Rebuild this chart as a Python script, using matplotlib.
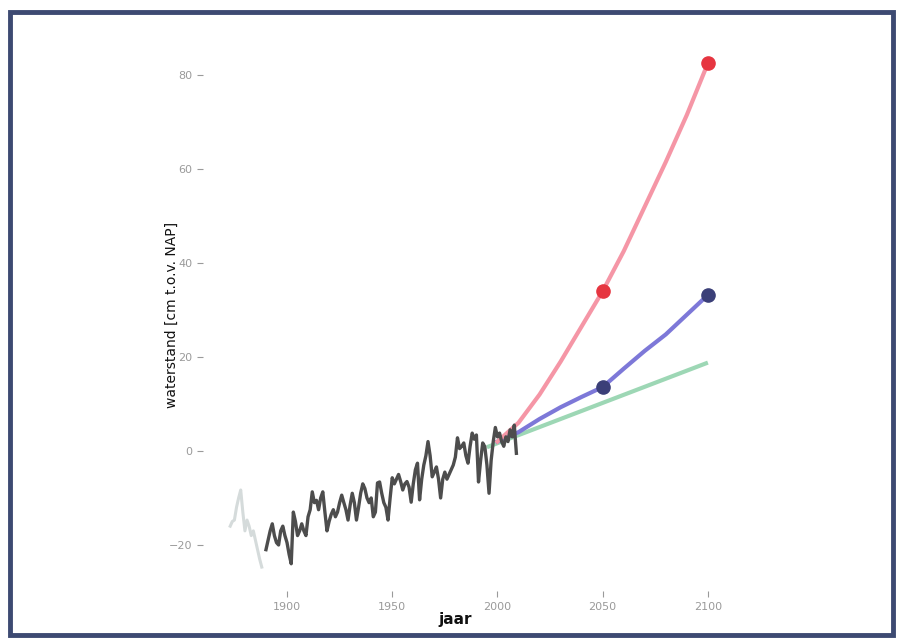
import matplotlib.pyplot as plt
from matplotlib.patches import Rectangle

# gemeten jaargemiddelden (donkergrijs)
years = list(range(1890, 2010))
level = [-21, -19, -17, -15.5, -18, -19.5, -20, -17, -16, -18,
         -19.5, -22, -24, -13, -15, -18, -17, -15.5, -17, -18,
         -14, -12.5, -8.7, -11, -10.5, -12.5, -10, -8.7, -13, -17,
         -15, -13.5, -12.5, -14, -13, -11, -9.4, -11, -12.5, -14.7,
         -11.5, -9, -11, -14.7, -12, -9, -7, -8, -10, -11,
         -10, -14, -13, -6.8, -6.6, -9, -11, -12, -14.7, -10,
         -5.7, -7, -6, -5, -6.5, -8.3, -7, -6.5, -7.7, -10.9,
         -7, -4, -2.6, -10.4, -6, -3, -1, 2, -1, -5.5,
         -4.5, -3.4, -6, -10, -6, -4.5, -6, -5, -4, -3,
         -1.3, 2.8, 0.5, 1, 1.7, -1, -2.6, 1, 3.8, 2.5,
         3.4, -6.6, -2, 1.7, 0.9, -3, -9, -2, 2, 5,
         3, 3.8, 2, 1, 3, 2, 4.5, 3, 5.5, -0.5]

# oudere reeks (lichtgrijs)
old_years = [1873, 1874, 1875, 1876, 1877, 1878, 1879, 1880, 1881, 1882, 1883, 1884, 1885, 1886, 1887, 1888]
old_level = [-16, -15, -14.7, -12, -10, -8.3, -13, -17, -14.7, -16, -18, -17, -19, -21, -23, -24.7]

# scenario's
proj_years = [2000, 2010, 2020, 2030, 2040, 2050, 2060, 2070, 2080, 2090, 2100]
high = [2, 6, 12, 19, 26.5, 34, 42.5, 52, 61.5, 71.5, 82.5]
mid = [2, 4, 6.8, 9.3, 11.5, 13.6, 17.5, 21.3, 24.8, 29, 33.2]
low_years = [1995, 2100]
low = [0.8, 18.8]

dot_years = [2050, 2100]
high_dots = [34, 82.5]
mid_dots = [13.6, 33.2]

fig = plt.figure(figsize=(9.04, 6.43), dpi=100)
ax = fig.add_axes([0.243, 0.1086, 0.568, 0.8187])

ax.plot(old_years, old_level, color='#d5dbdb', lw=2.2)
ax.plot(low_years, low, color='#93d3ad', lw=3, alpha=0.9, solid_capstyle='butt')
ax.plot(proj_years, mid, color='#7d78d8', lw=3)
ax.plot(proj_years, high, color='#f596a6', lw=3)
ax.plot(years, level, color='#4d4d4d', lw=2.4)
ax.plot(dot_years, high_dots, 'o', color='#e63540', ms=9.5)
ax.plot(dot_years, mid_dots, 'o', color='#3b3f78', ms=9.5)

ax.set_xlim(1868, 2112)
ax.set_ylim(-26, 86)
ax.set_xticks([1900, 1950, 2000, 2050, 2100])
ax.set_yticks([-20, 0, 20, 40, 60, 80])

for s in ax.spines.values():
    s.set_visible(False)
ax.spines['left'].set_position(('outward', 12))
ax.spines['bottom'].set_position(('outward', 13))
ax.tick_params(axis='both', colors='#9a9a9a', labelsize=8, length=4, width=0.8)

ax.set_xlabel('jaar', fontsize=11, color='#111111', fontweight='semibold')
ax.set_ylabel('waterstand [cm t.o.v. NAP]', fontsize=10, color='#111111')
ax.xaxis.set_label_coords(0.458, -0.074)
ax.yaxis.set_label_coords(-0.079, 0.49)

fig.patches.append(Rectangle((0.011, 0.013), 0.977, 0.968, transform=fig.transFigure,
                             fill=False, edgecolor='#3d4a72', lw=3.5))

fig.savefig('out.png', dpi=100)
